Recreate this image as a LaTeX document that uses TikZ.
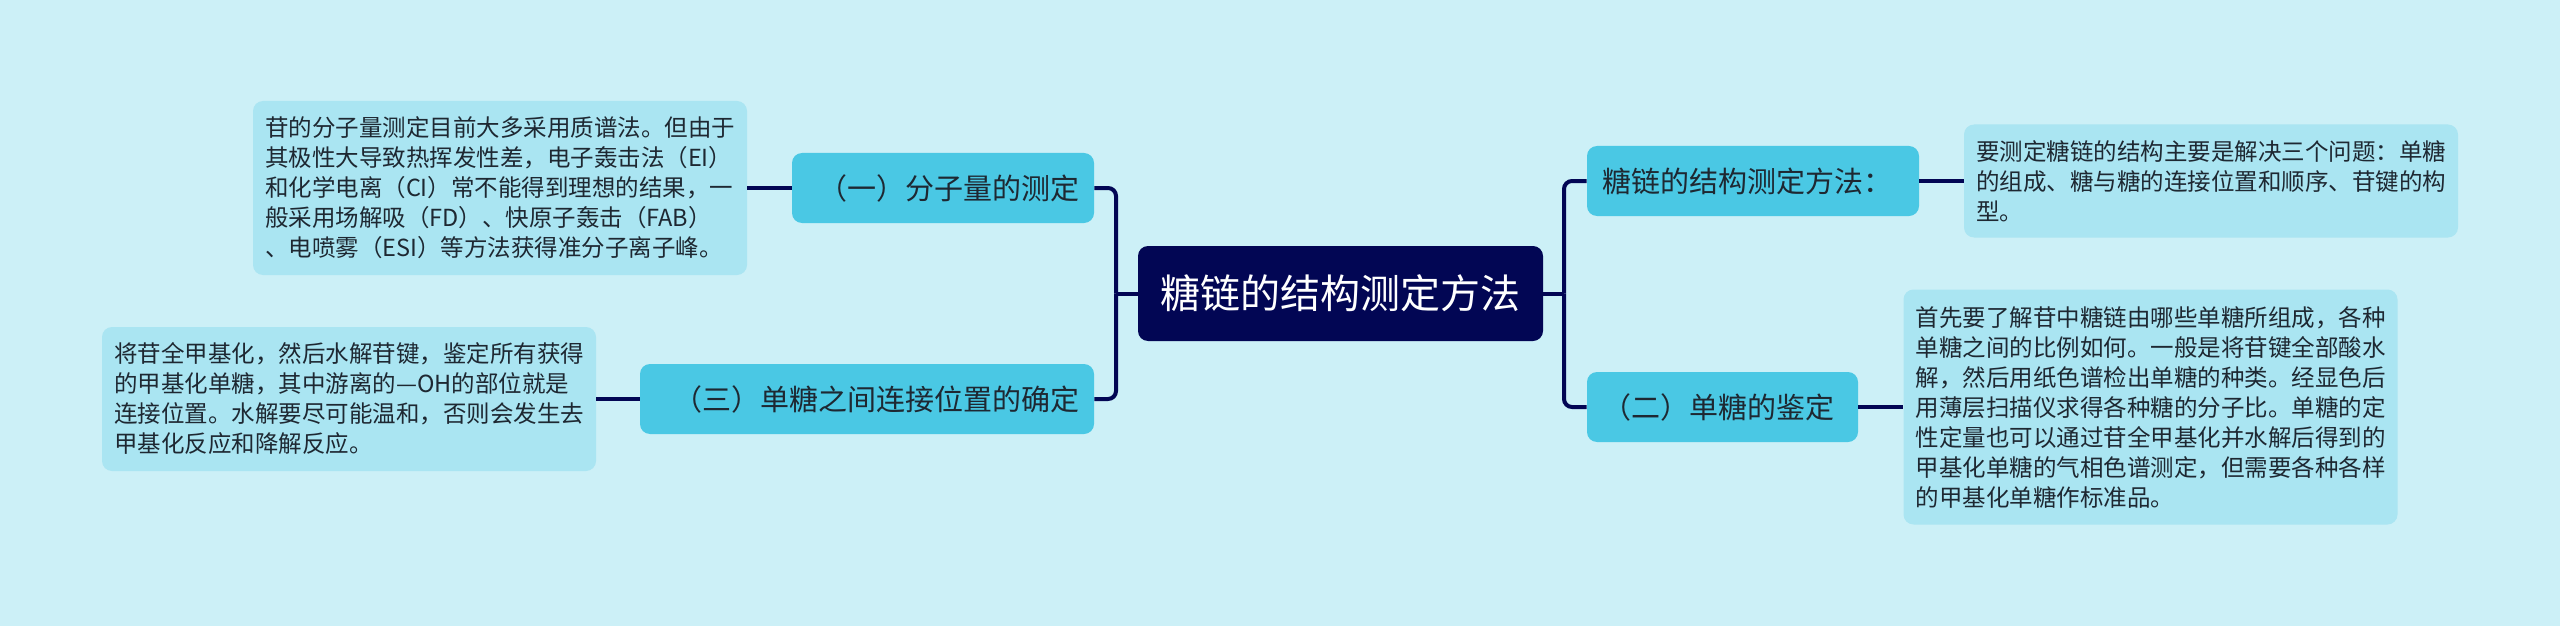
\documentclass[tikz,border=0pt]{standalone}
\usepackage{fontspec}
\setmainfont{Noto Sans CJK SC}
\usepackage{tikz}
\definecolor{bgcol}{RGB}{204,240,247}
\definecolor{rootcol}{RGB}{2,6,84}
\definecolor{midcol}{RGB}{74,200,228}
\definecolor{leafcol}{RGB}{170,229,242}
\definecolor{txtcol}{RGB}{30,40,50}
\tikzset{
	link/.style={line width=2pt, draw=rootcol, rounded corners=4pt},
	rootbox/.style={fill=rootcol, text=white, rounded corners=5pt, minimum width=202.5pt, minimum height=47.5pt, inner sep=0pt, font=\fontsize{20}{24}\selectfont},
	midbox/.style={fill=midcol, text=txtcol, rounded corners=5pt, minimum height=35pt, inner xsep=7.5pt, inner ysep=0pt, font=\fontsize{14.5}{17}\selectfont},
	leafbox/.style={fill=leafcol, text=txtcol, rounded corners=5pt, text width=235pt, align=left, inner xsep=6pt, inner ysep=0pt, font=\fontsize{11.75}{15}\selectfont}
}

\begin{document}
\begin{tikzpicture}[x=0.5pt, y=-0.5pt]
	\fill[bgcol] (0,0) rectangle (2560,626);
	\useasboundingbox (0,0) rectangle (2560,626);
	\node[rootbox] (root) at (1340.5,293.5) {糖链的结构测定方法};
	\node[midbox, text width=136pt, align=right] (n1) at (943,188) {（一）分子量的测定};
	\node[midbox, text width=212pt, align=right] (n3) at (867,399) {（三）单糖之间连接位置的确定};
	\node[midbox, text width=151pt, align=left] (r1) at (1753,181) {糖链的结构测定方法：};
	\node[midbox, text width=120.5pt, align=left] (r2) at (1722.5,407) {（二）单糖的鉴定};
	\node[leafbox, minimum height=87pt] (l1) at (500,188) {苷的分子量测定目前大多采用质谱法。但由于\\其极性大导致热挥发性差，电子轰击法（EI）\\和化学电离（CI）常不能得到理想的结果，一\\般采用场解吸（FD）、快原子轰击（FAB）\\、电喷雾（ESI）等方法获得准分子离子峰。};
	\node[leafbox, minimum height=72pt] (l3) at (349,399) {将苷全甲基化，然后水解苷键，鉴定所有获得\\的甲基化单糖，其中游离的—OH的部位就是\\连接位置。水解要尽可能温和，否则会发生去\\甲基化反应和降解反应。};
	\node[leafbox, minimum height=56.5pt] (lr1) at (2211,181) {要测定糖链的结构主要是解决三个问题：单糖\\的组成、糖与糖的连接位置和顺序、苷键的构\\型。};
	\node[leafbox, minimum height=117.5pt] (lr2) at (2150.5,407) {首先要了解苷中糖链由哪些单糖所组成，各种\\单糖之间的比例如何。一般是将苷键全部酸水\\解，然后用纸色谱检出单糖的种类。经显色后\\用薄层扫描仪求得各种糖的分子比。单糖的定\\性定量也可以通过苷全甲基化并水解后得到的\\甲基化单糖的气相色谱测定，但需要各种各样\\的甲基化单糖作标准品。};
	\coordinate (lj) at (1116,293.5);
	\coordinate (rj) at (1564,293.5);
	\draw[link] (root.west) -- (lj);
	\draw[link] (lj) |- (n1.east);
	\draw[link] (lj) |- (n3.east);
	\draw[link] (root.east) -- (rj);
	\draw[link] (rj) |- (r1.west);
	\draw[link] (rj) |- (r2.west);
	\draw[link] (n1.west) -- (l1.east);
	\draw[link] (n3.west) -- (l3.east);
	\draw[link] (r1.east) -- (lr1.west);
	\draw[link] (r2.east) -- (lr2.west);
\end{tikzpicture}
\end{document}
